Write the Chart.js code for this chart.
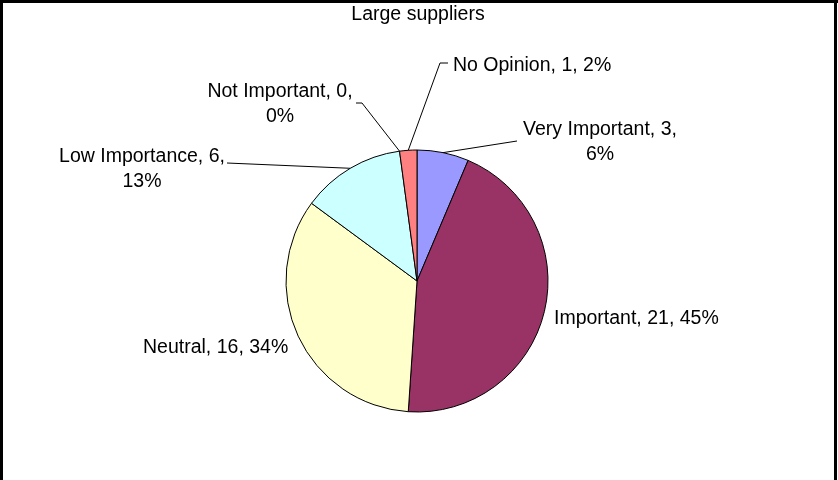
<!DOCTYPE html>
<html>
<head>
<meta charset="utf-8">
<script src="https://cdn.jsdelivr.net/npm/chart.js@4.4.0/dist/chart.umd.min.js"></script>
<style>
  body { margin: 0; background: #fff; }
  #wrap { width: 838px; height: 480px; }
</style>
</head>
<body>
<div id="wrap"><canvas id="pieChart" width="838" height="480"></canvas></div>
<script>
const categories = ['Very Important', 'Important', 'Neutral', 'Low Importance', 'Not Important', 'No Opinion'];
const counts = [3, 21, 16, 6, 0, 1];
const sliceColors = ['#9999FF', '#993366', '#FFFFCC', '#CCFFFF', '#FFFFFF', '#FF8080'];
const chartTitle = 'Large suppliers';

// where each data label sits (baseline of first line) and where its leader line ends
const labelSpots = [
    { x: 600, y: 135, align: 'center', wrap: true, leader: [[517, 141]] },
    { x: 554, y: 324, align: 'left', wrap: false, leader: null },
    { x: 143, y: 353, align: 'left', wrap: false, leader: null },
    { x: 142, y: 162, align: 'center', wrap: true, leader: [[227, 163]] },
    { x: 280, y: 97, align: 'center', wrap: true, leader: [[362, 103], [356, 103]] },
    { x: 453, y: 71, align: 'left', wrap: false, leader: [[440, 63], [448, 63]] }
];

const FONT = '19.5px "Liberation Sans", Arial, sans-serif';
const total = counts.reduce((a, b) => a + b, 0);

const excelLook = {
    id: 'excelLook',
    beforeDraw(chart) {
        const ctx = chart.ctx;
        ctx.save();
        ctx.fillStyle = '#fff';
        ctx.fillRect(0, 0, chart.width, chart.height);
        // frame, the bottom edge is cut off in the picture
        ctx.fillStyle = '#000';
        ctx.fillRect(0, 0, 838, 3);
        ctx.fillRect(0, 0, 3, 480);
        ctx.fillRect(834, 0, 3, 480);
        ctx.restore();
    },
    afterDatasetsDraw(chart) {
        const ctx = chart.ctx;
        const meta = chart.getDatasetMeta(0);
        ctx.save();
        ctx.font = FONT;
        ctx.fillStyle = '#000';
        ctx.strokeStyle = '#000';
        ctx.lineWidth = 1;

        ctx.textAlign = 'center';
        ctx.textBaseline = 'alphabetic';
        ctx.fillText(chartTitle, 418, 20);

        meta.data.forEach((arc, i) => {
            const spot = labelSpots[i];
            const p = arc.getProps(['x', 'y', 'startAngle', 'endAngle', 'outerRadius'], true);
            const mid = (p.startAngle + p.endAngle) / 2;
            if (spot.leader) {
                ctx.beginPath();
                ctx.moveTo(p.x + Math.cos(mid) * p.outerRadius, p.y + Math.sin(mid) * p.outerRadius);
                spot.leader.forEach(pt => ctx.lineTo(pt[0], pt[1]));
                ctx.stroke();
            }
            const pct = Math.round(counts[i] / total * 100) + '%';
            const head = categories[i] + ', ' + counts[i] + ',';
            ctx.textAlign = spot.align;
            if (spot.wrap) {
                ctx.fillText(head, spot.x, spot.y);
                ctx.fillText(pct, spot.x, spot.y + 25);
            } else {
                ctx.fillText(head + ' ' + pct, spot.x, spot.y);
            }
        });
        ctx.restore();
    }
};

new Chart(document.getElementById('pieChart'), {
    type: 'pie',
    data: {
        labels: categories,
        datasets: [{
            data: counts,
            backgroundColor: sliceColors,
            borderColor: '#000',
            borderWidth: 1
        }]
    },
    options: {
        responsive: false,
        animation: false,
        events: [],
        radius: 131,
        layout: { padding: { left: 286, right: 290, top: 150, bottom: 68 } },
        plugins: {
            legend: { display: false },
            title: { display: false },
            tooltip: { enabled: false }
        }
    },
    plugins: [excelLook]
});
</script>
</body>
</html>
